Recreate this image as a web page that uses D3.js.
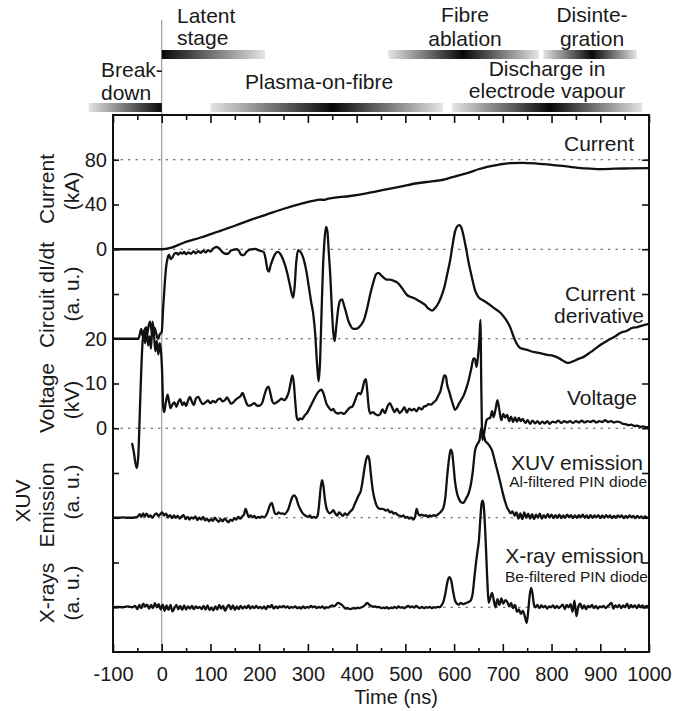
<!DOCTYPE html>
<html>
<head>
<meta charset="utf-8">
<title>Fibre discharge: current, dI/dt, voltage, XUV and X-ray traces</title>
<script src="https://d3js.org/d3.v7.min.js"></script>
<style>
    body {
        margin: 0;
        background: #fff;
    }
    svg text {
        font-family: "Liberation Sans", Arial, Helvetica, sans-serif;
        fill: #1a1a1a;
    }
</style>
</head>
<body>
<div id="chart"></div>
<script>
// ---- data (time in ns) ----
const timeTicks = [-100, 0, 100, 200, 300, 400, 500, 600, 700, 800, 900, 1000];
const timeMinorTicks = [-50, 50, 150, 250, 350, 450, 550, 650, 750, 850, 950];
const currentTicks = [0, 40, 80];
const voltageTicks = [0, 10, 20];

const stageLabels = [['Break-', 'down'], ['Latent', 'stage'], ['Plasma-on-fibre'],
    ['Fibre', 'ablation'], ['Disinte-', 'gration'], ['Discharge in', 'electrode vapour']];
const stageStart = [-150, 0, 100, 465, 783, 596];
const stagePeak = [0, 0, 350, 618, 883, 797];
const stageEnd = [0, 212, 577, 774, 975, 986];

const seriesNames = ['Current', 'Current derivative', 'Voltage', 'XUV emission', 'X-ray emission'];
const filterNotes = ['Al-filtered PIN diode', 'Be-filtered PIN diode'];

// current, kA
const currentData = [[-100,0],[0,0],[20,1.5],[44,5.6],[80,10.5],[113,15.4],[150,21],[181,26],[215,31],
    [249,36],[285,40.5],[318,44],[325,44.4],[332,44.1],[340,45],[387,47.6],[420,50],[455,53],[490,56],
    [524,59],[551,60.5],[570,61.5],[585,63],[610,66],[633,69],[650,71.5],[668,73.6],[690,75.5],[715,77],
    [740,77.2],[770,76.6],[800,75.5],[838,73.7],[870,72.3],[900,71.7],[930,72],[960,72.3],[1000,72.6]];

// circuit dI/dt, a.u. (0 = upper dotted line, -2 = lower dotted line)
const didtData = [[-100,-2],[-60,-2],[-48,-2],[-45,-1.9],[-42,-1.78],[-39,-1.95],[-36,-1.82],[-33,-1.75],
    [-30,-1.9],[-27,-1.72],[-24,-1.62],[-21,-1.8],[-18,-1.95],[-15,-1.75],[-12,-1.85],[-8,-2],[-4,-1.9],
    [0,-1.85],[3,-1.3],[6,-0.8],[9,-0.4],[12,-0.2],[15,-0.12],[18,-0.22],[22,-0.18],[26,-0.1],[30,-0.08],
    [34,-0.12],[38,-0.07],[42,-0.1],[46,-0.06],[50,-0.11],[55,-0.07],[60,-0.1],[65,-0.05],[70,-0.09],
    [75,-0.04],[80,-0.08],[85,-0.03],[90,-0.07],[95,-0.02],[100,-0.05],[106,0.02],[113,0.05],[118,0.02],
    [124,-0.06],[130,-0.1],[136,-0.1],[142,-0.03],[148,-0.01],[154,0],[158,-0.03],[163,-0.12],[168,-0.13],
    [174,-0.06],[180,-0.01],[186,0],[192,0.01],[198,-0.02],[204,-0.04],[209,-0.06],[213,-0.2],[217,-0.45],
    [220,-0.5],[223,-0.38],[227,-0.25],[232,-0.12],[238,-0.06],[243,-0.1],[248,-0.2],[253,-0.35],[258,-0.55],
    [263,-0.8],[267,-1],[270,-1.08],[273,-0.8],[276,-0.3],[280,-0.02],[284,-0.05],[288,-0.12],[292,-0.25],
    [297,-0.5],[302,-0.85],[307,-1.2],[311,-1.45],[315,-1.9],[319,-2.6],[322,-2.95],[325,-2.5],[328,-1.4],
    [331,-0.4],[334,0.2],[337,0.5],[340,0.4],[343,-0.1],[346,-0.6],[349,-1.3],[352,-1.85],[355,-2.05],
    [358,-1.75],[362,-1.35],[366,-1.15],[370,-1.12],[374,-1.25],[378,-1.4],[383,-1.6],[388,-1.72],[393,-1.78],
    [398,-1.78],[404,-1.75],[410,-1.68],[416,-1.55],[422,-1.3],[428,-1],[434,-0.75],[440,-0.56],[445,-0.53],
    [450,-0.58],[456,-0.64],[462,-0.68],[468,-0.68],[475,-0.7],[483,-0.74],[490,-0.82],[497,-0.93],[503,-1.02],
    [510,-1.06],[517,-1.09],[524,-1.13],[532,-1.18],[540,-1.24],[548,-1.33],[555,-1.37],[562,-1.3],[568,-1.2],
    [574,-1.05],[580,-0.85],[586,-0.55],[592,-0.24],[597,0.1],[602,0.4],[607,0.52],[611,0.54],[615,0.48],
    [619,0.32],[624,0.05],[629,-0.25],[633,-0.46],[638,-0.7],[643,-0.92],[650,-1.07],[659,-1.14],[668,-1.2],
    [680,-1.3],[695,-1.42],[705,-1.55],[715,-1.74],[722,-1.95],[728,-2.1],[735,-2.2],[750,-2.25],[765,-2.3],
    [780,-2.33],[791,-2.36],[800,-2.37],[811,-2.41],[822,-2.48],[834,-2.54],[845,-2.5],[855,-2.45],[865,-2.41],
    [880,-2.3],[890,-2.22],[900,-2.14],[915,-2.04],[930,-1.95],[941,-1.87],[955,-1.82],[965,-1.76],[976,-1.74],
    [988,-1.7],[1000,-1.67]];

// voltage, kV
const voltageData = [[-61,-3.3],[-57,-5.5],[-54,-7.8],[-51,-8.9],[-48,-6],[-45,3.4],[-42,13],[-39,19.7],
    [-36,21.5],[-34,19],[-31,22.6],[-28,18.5],[-25,20.5],[-22,17.8],[-19,23.8],[-16,21],[-13,17.2],[-10,19.5],
    [-7,16.5],[-4,19],[-1,16.5],[1,12],[3,4.7],[5,3.6],[8,5.5],[12,7.5],[15,6],[18,4.5],[22,5.3],[26,5.8],
    [30,4.8],[34,5.9],[38,6.5],[42,5.2],[46,5.8],[50,5],[54,6.2],[58,7],[62,5.9],[66,5.2],[70,6.6],[75,7],
    [80,6],[85,5.4],[90,5.8],[95,6.2],[100,5.6],[105,6.1],[110,5.8],[115,6.4],[120,6.6],[125,6],[130,6.3],
    [134,6.9],[138,6.2],[142,5.5],[147,5.8],[152,6.4],[157,6.8],[162,7.2],[166,7.9],[170,6.8],[174,5.6],
    [178,5],[184,5.2],[190,5.6],[196,5],[202,5.1],[207,5.9],[211,7.5],[215,8.8],[219,9.3],[223,7.8],[227,6],
    [231,5.5],[236,5.8],[241,6.2],[246,6.6],[251,6.3],[256,6.8],[261,8.2],[265,10.4],[268,11.8],[271,10.2],
    [274,6],[277,2.5],[280,1.8],[284,2.2],[288,2],[293,2.8],[298,3.4],[304,4.6],[310,5.9],[316,7.2],[322,8.2],
    [328,8.6],[333,7.4],[338,5.5],[343,4.6],[348,4],[352,4.3],[356,3.6],[362,3.3],[368,3.5],[374,3.2],[380,3.9],
    [386,4.6],[391,4.8],[396,6],[400,7.2],[404,7.9],[408,7.6],[412,8.8],[416,10.6],[419,11],[422,8],[425,4.5],
    [428,3.3],[433,3.6],[438,3.2],[443,2.9],[448,3.1],[453,4.2],[458,3.4],[463,4.8],[468,5.6],[473,4.6],
    [478,3.6],[483,4.4],[488,3.4],[493,3.9],[498,4.7],[503,3.5],[508,4.4],[513,4],[518,4.3],[523,3.8],[528,4.6],
    [533,4.2],[538,4.8],[543,5],[548,5.4],[553,5.3],[558,5.8],[563,6.3],[568,7.4],[572,8.3],[576,10.2],
    [580,11.8],[583,11.6],[586,9.6],[590,8.2],[594,6.6],[598,5.2],[602,4.1],[606,4.6],[610,5.5],[615,6.4],
    [620,7.4],[625,8.9],[630,10.8],[635,13.2],[640,15.6],[643,15.4],[646,13.7],[649,16],[652,20],[654,24.2],
    [656,8],[658,-2.6],[661,-1.5],[664,0.5],[667,1.9],[671,2.2],[674,2.3],[678,3.8],[681,2.5],[685,4.2],
    [689,6.3],[693,4],[697,1.8],[701,3.2],[705,2.4],[709,3],[713,1.6],[717,2.6],[721,1.4],[725,2.4],[729,1.5],
    [733,2.3],[737,1.6],[741,2.1],[746,1.2],[751,1.8],[756,1],[761,1.7],[766,1.1],[771,1.6],[776,1],[781,1.5],
    [786,1.1],[791,1.6],[796,1],[802,1.5],[808,1.3],[814,1.7],[820,1.2],[826,1.6],[832,1.3],[838,1.6],
    [844,1.2],[850,1.6],[856,1.3],[862,1.7],[868,1.3],[874,1.6],[880,1.4],[886,1.7],[892,1.3],[898,1.6],
    [904,1.4],[910,1.8],[916,1.4],[922,1.6],[928,1.3],[934,1.5],[940,1.4],[946,1],[952,0.9],[958,0.7],
    [964,0.8],[970,0.5],[976,0.6],[982,0.3],[988,0.4],[994,0.2],[1000,0.3]];

// XUV emission, a.u.
const xuvData = [[-100,0],[-90,0],[-80,0.01],[-70,0],[-60,0],[-50,0.02],[-45,0.08],[-42,0.02],[-38,0.1],
    [-35,0.03],[-31,0.09],[-27,0.02],[-23,0.05],[-19,0],[-15,0.06],[-11,0.1],[-7,0.04],[-3,0.08],[1,0.12],
    [5,0.05],[9,0.09],[13,0.01],[17,0.06],[21,-0.01],[25,0.05],[29,0],[33,0.04],[37,-0.02],[41,0.03],
    [45,0.06],[49,-0.03],[53,0.02],[57,-0.04],[61,0.01],[65,-0.02],[69,0.03],[73,-0.05],[77,0],[81,-0.04],
    [85,0.02],[89,-0.06],[93,-0.02],[97,-0.08],[101,-0.03],[105,-0.07],[109,0],[113,-0.05],[117,-0.09],
    [121,-0.03],[125,-0.08],[129,-0.02],[133,-0.06],[137,-0.1],[141,-0.04],[145,-0.07],[149,-0.01],[153,-0.04],
    [157,0.02],[161,-0.02],[165,0.03],[169,0.08],[172,0.2],[175,0.12],[178,0.02],[182,0.05],[186,0.01],
    [190,0.04],[194,-0.01],[198,0.02],[202,0],[206,0.03],[210,0.01],[214,0.05],[218,0.15],[222,0.28],
    [226,0.33],[229,0.22],[232,0.1],[236,0.08],[240,0.12],[244,0.09],[248,0.1],[252,0.08],[256,0.12],[260,0.2],
    [264,0.34],[268,0.46],[272,0.5],[276,0.44],[280,0.3],[284,0.2],[288,0.12],[292,0.07],[296,0.04],[300,0.02],
    [304,0.05],[308,0],[312,0.02],[316,0],[320,0.05],[323,0.3],[326,0.65],[329,0.84],[332,0.7],[335,0.4],
    [338,0.22],[341,0.14],[344,0.1],[348,0.12],[352,0.17],[356,0.1],[360,0.05],[364,0.12],[368,0.08],
    [372,0.04],[376,0.1],[380,0.06],[384,0.1],[388,0.15],[392,0.2],[396,0.3],[400,0.4],[404,0.5],[408,0.58],
    [412,0.8],[416,1.1],[420,1.32],[423,1.38],[426,1.3],[429,1],[432,0.7],[436,0.45],[440,0.3],[444,0.22],
    [448,0.2],[452,0.2],[456,0.19],[460,0.16],[464,0.18],[468,0.12],[472,0.14],[476,0.09],[480,0.11],
    [484,0.06],[488,0.05],[492,0.03],[496,0.05],[500,0],[504,0.02],[508,-0.02],[512,0.01],[516,-0.04],
    [520,0.02],[523,0.2],[526,0.1],[530,0.05],[534,0.07],[538,0.04],[542,0.06],[546,0.02],[550,0.05],
    [554,0.03],[558,0.06],[562,0.04],[566,0.07],[570,0.1],[574,0.15],[578,0.22],[582,0.45],[586,0.95],
    [590,1.35],[593,1.52],[596,1.45],[599,1.15],[602,0.8],[606,0.55],[610,0.42],[614,0.35],[619,0.33],
    [624,0.42],[630,0.55],[634,0.72],[638,1],[643,1.5],[648,1.65],[652,1.73],[656,2],[660,1.9],[664,1.72],
    [668,1.67],[673,1.6],[678,1.5],[684,1.25],[690,1],[695,0.78],[700,0.55],[705,0.35],[709,0.22],[713,0.15],
    [716,0.1],[720,0.14],[724,0.05],[728,0.12],[732,-0.02],[736,0.1],[740,-0.03],[744,0.12],[748,0],
    [752,0.09],[756,-0.02],[760,0.08],[764,-0.03],[768,0.07],[772,0],[776,0.09],[780,-0.02],[784,0.06],
    [788,0],[792,0.08],[796,0.01],[800,0.07],[804,-0.01],[808,0.06],[812,0],[816,0.07],[820,-0.01],[824,0.05],
    [828,0],[832,0.07],[836,0.01],[840,0.06],[844,-0.01],[848,0.05],[852,0],[856,0.06],[860,0.01],[864,0.07],
    [868,0],[872,0.05],[876,-0.01],[880,0.06],[884,0],[888,0.05],[892,0.01],[896,0.06],[900,-0.01],[904,0.05],
    [908,0],[912,0.06],[916,0.01],[920,0.05],[924,-0.01],[928,0.04],[932,0],[936,0.05],[940,0.01],[944,0.05],
    [948,-0.01],[952,0.04],[956,0],[960,0.05],[964,0.01],[968,0.04],[972,-0.01],[976,0.04],[980,0],[984,0.03],
    [988,-0.01],[992,0.03],[996,0],[1000,0.02]];

// X-ray emission, a.u.
const xrayData = [[-100,0],[-90,0.01],[-80,0],[-70,0.02],[-60,0],[-55,0.03],[-50,-0.04],[-46,0.05],
    [-42,-0.02],[-38,0.08],[-34,0.02],[-30,0.06],[-26,-0.03],[-22,0.05],[-18,-0.02],[-14,0.09],[-10,0],
    [-6,0.07],[-2,-0.05],[2,0.06],[6,-0.08],[10,0.04],[14,-0.06],[18,0.05],[22,-0.09],[26,-0.02],[30,0.05],
    [34,-0.04],[38,0.03],[42,-0.06],[46,0.04],[50,-0.05],[54,0.02],[58,-0.03],[62,0.03],[66,-0.04],[70,0.02],
    [74,-0.02],[78,0.01],[82,-0.04],[86,0.03],[90,-0.05],[94,0.04],[98,-0.06],[102,-0.01],[106,-0.07],
    [110,0.02],[114,-0.05],[118,0.05],[122,-0.03],[126,0.03],[130,-0.08],[134,0],[138,0.05],[142,-0.04],
    [146,0.04],[150,-0.06],[154,0.02],[158,-0.04],[162,0.03],[166,-0.03],[170,0.02],[174,-0.02],[178,0.04],
    [182,-0.03],[186,0.02],[190,-0.02],[194,0.03],[198,-0.02],[202,0.01],[206,-0.03],[210,0.02],[214,-0.04],
    [218,0.03],[222,0],[226,0.05],[230,-0.03],[234,0.02],[238,-0.02],[242,0.02],[246,0],[250,0.03],[254,-0.01],
    [258,0.02],[262,-0.02],[266,0.01],[270,-0.01],[274,0.02],[278,-0.02],[282,0],[286,-0.03],[290,0.02],
    [294,-0.02],[298,0.01],[302,-0.01],[306,0.03],[310,0],[314,0.02],[318,-0.02],[322,0.01],[326,-0.01],
    [330,0.02],[334,-0.03],[338,0],[342,-0.01],[346,0.02],[350,0.04],[354,0.02],[358,0.06],[362,0.1],
    [366,0.08],[370,0.05],[374,0],[378,-0.03],[382,-0.02],[386,-0.04],[390,-0.03],[394,-0.02],[398,-0.03],
    [402,-0.01],[406,-0.02],[410,0],[414,0.02],[418,0.06],[422,0.1],[426,0.05],[430,0.03],[434,0.01],
    [438,0.02],[442,0],[446,0.01],[450,-0.02],[454,-0.01],[458,-0.02],[462,0],[466,-0.03],[470,-0.01],
    [474,-0.02],[478,0.01],[482,-0.02],[486,0.02],[490,-0.01],[494,0],[498,-0.02],[502,0.01],[506,0.03],
    [510,0],[514,0.02],[518,-0.01],[522,0.03],[526,0],[530,-0.02],[534,0.01],[538,-0.02],[542,0],[546,-0.01],
    [550,0.01],[554,-0.02],[558,0],[562,-0.01],[566,0.01],[570,0],[574,0.04],[578,0.12],[582,0.3],[586,0.55],
    [590,0.67],[594,0.6],[598,0.35],[602,0.15],[606,0.08],[610,0.06],[614,0.1],[618,0.07],[622,0.08],
    [626,0.1],[630,0.12],[634,0.15],[638,0.3],[642,0.7],[645,1],[648,1.25],[651,1.5],[654,2],[657,2.35],
    [659,2.38],[661,2.25],[663,1.9],[665,1.43],[667,0.9],[669,0.4],[671,0.1],[674,0.2],[678,0.32],[682,0.12],
    [685,0],[689,0.18],[693,0.05],[697,0.2],[701,0.08],[705,0.16],[709,0.12],[713,0.02],[717,0.1],[721,-0.02],
    [725,0.05],[729,-0.1],[733,-0.05],[737,-0.15],[741,-0.08],[745,-0.2],[749,-0.35],[752,-0.1],[755,0.25],
    [758,0.43],[761,0.3],[764,0.05],[767,0],[771,0.05],[775,-0.02],[779,0.04],[783,0],[787,0.03],[791,-0.03],
    [795,0.02],[799,0],[803,0.04],[807,-0.02],[811,0.03],[815,-0.02],[819,0.02],[823,0.06],[827,-0.04],
    [831,0.05],[835,0],[839,0.07],[843,-0.1],[847,0.15],[851,-0.2],[855,0.02],[859,0.08],[863,-0.03],
    [867,0.04],[871,-0.04],[875,0.03],[879,0],[883,0.05],[887,-0.02],[891,0.03],[895,-0.03],[899,0.02],
    [903,0],[907,0.03],[911,-0.02],[915,0.02],[919,0.06],[923,0.1],[927,-0.03],[931,0.04],[935,0],[939,0.05],
    [943,-0.02],[947,0.04],[951,0],[955,0.08],[959,-0.02],[963,0.05],[967,0],[971,0.04],[975,-0.02],[979,0.05],
    [983,0],[987,0.04],[991,-0.01],[995,0.03],[1000,0]];

// ---- chart ----
const width = 688;
const height = 711;
const margin = { top: 115, right: 39, bottom: 59, left: 113 };

const svg = d3.select('#chart').append('svg')
    .attr('width', width)
    .attr('height', height);

const x = d3.scaleLinear()
    .domain([-100, 1000])
    .range([margin.left, width - margin.right]);

// the plot is stacked in 12 equal levels, each trace gets its own band
const level = d3.scaleLinear()
    .domain([0, 12])
    .range([height - margin.bottom, margin.top]);

const yCurrent = d3.scaleLinear().domain([0, 80]).range([level(9), level(11)]);
const yDidt = d3.scaleLinear().domain([-2, 0]).range([level(7), level(9)]);
const yVoltage = d3.scaleLinear().domain([0, 20]).range([level(5), level(7)]);
const yXuv = d3.scaleLinear().domain([0, 1]).range([level(3), level(4)]);
const yXray = d3.scaleLinear().domain([0, 1]).range([level(1), level(2)]);

const x0 = margin.left, x1 = width - margin.right;
const y0 = height - margin.bottom, y1 = margin.top;

// dotted reference lines
const refLines = [yCurrent(80), yCurrent(0), yVoltage(20), yVoltage(0), yXuv(0), yXray(0)];
svg.append('g')
    .selectAll('line')
    .data(refLines)
    .join('line')
    .attr('x1', x0)
    .attr('x2', x1)
    .attr('y1', d => d)
    .attr('y2', d => d)
    .attr('stroke', '#555')
    .attr('stroke-width', 1.1)
    .attr('stroke-dasharray', '2.5,5');

// t = 0 marker
svg.append('line')
    .attr('x1', x(0))
    .attr('x2', x(0))
    .attr('y1', 20)
    .attr('y2', y0)
    .attr('stroke', '#888')
    .attr('stroke-width', 1);

// stage bars
const defs = svg.append('defs');
const stageRow = [1, 0, 1, 0, 0, 1];
const rowY = [50, 103];
stageLabels.forEach((lab, i) => {
    const g = defs.append('linearGradient')
        .attr('id', 'stage' + i)
        .attr('gradientUnits', 'userSpaceOnUse')
        .attr('x1', x(stageStart[i]))
        .attr('x2', x(stageEnd[i]))
        .attr('y1', 0)
        .attr('y2', 0);
    const p = (stagePeak[i] - stageStart[i]) / (stageEnd[i] - stageStart[i]);
    if (p > 0) g.append('stop').attr('offset', 0).attr('stop-color', '#e4e4e4');
    g.append('stop').attr('offset', p).attr('stop-color', '#080808');
    if (p < 1) g.append('stop').attr('offset', 1).attr('stop-color', '#e4e4e4');

    svg.append('rect')
        .attr('x', x(stageStart[i]))
        .attr('width', x(stageEnd[i]) - x(stageStart[i]))
        .attr('y', rowY[stageRow[i]])
        .attr('height', 9)
        .attr('fill', `url(#stage${i})`);
});

const stagePos = [
    { x: 101, anchor: 'start', y: [77, 100] },
    { x: 177, anchor: 'start', y: [23, 45] },
    { x: 245, anchor: 'start', y: [89] },
    { x: 465, anchor: 'middle', y: [22, 46] },
    { x: 592, anchor: 'middle', y: [22, 46] },
    { x: 547, anchor: 'middle', y: [76, 98] }
];
stageLabels.forEach((lines, i) => {
    lines.forEach((t, j) => {
        svg.append('text')
            .attr('x', stagePos[i].x)
            .attr('y', stagePos[i].y[j])
            .attr('text-anchor', stagePos[i].anchor)
            .attr('font-size', 21)
            .text(t);
    });
});

// traces
const traces = [
    { data: currentData, y: yCurrent },
    { data: didtData, y: yDidt },
    { data: voltageData, y: yVoltage },
    { data: xuvData, y: yXuv },
    { data: xrayData, y: yXray }
];
traces.forEach(tr => {
    const line = d3.line()
        .x(d => x(d[0]))
        .y(d => tr.y(d[1]))
        .curve(d3.curveMonotoneX);
    svg.append('path')
        .datum(tr.data)
        .attr('fill', 'none')
        .attr('stroke', '#111')
        .attr('stroke-width', 2.3)
        .attr('stroke-linejoin', 'round')
        .attr('d', line);
});

// axes (ticks point inward)
svg.append('g')
    .attr('transform', `translate(0,${y0})`)
    .call(d3.axisBottom(x).tickValues(timeTicks).tickSizeInner(-8).tickSizeOuter(0).tickPadding(15)
        .tickFormat(d => String(d)));
svg.append('g')
    .attr('transform', `translate(0,${y0})`)
    .call(d3.axisBottom(x).tickValues(timeMinorTicks).tickSizeInner(-4).tickSizeOuter(0).tickFormat(''));
svg.append('g')
    .attr('transform', `translate(0,${y1})`)
    .call(d3.axisTop(x).tickValues(timeTicks).tickSizeInner(-8).tickSizeOuter(0).tickFormat(''));
svg.append('g')
    .attr('transform', `translate(0,${y1})`)
    .call(d3.axisTop(x).tickValues(timeMinorTicks).tickSizeInner(-5).tickSizeOuter(0).tickFormat(''));

svg.append('g')
    .attr('transform', `translate(${x0},0)`)
    .call(d3.axisLeft(yCurrent).tickValues(currentTicks).tickSizeInner(-6).tickSizeOuter(0).tickPadding(6)
        .tickFormat(d => String(d)));
svg.append('g')
    .attr('transform', `translate(${x0},0)`)
    .call(d3.axisLeft(yVoltage).tickValues(voltageTicks).tickSizeInner(-6).tickSizeOuter(0).tickPadding(6)
        .tickFormat(d => String(d)));
svg.append('g')
    .attr('transform', `translate(${x0},0)`)
    .call(d3.axisLeft(level).tickValues([1, 2, 3, 4, 8]).tickSizeInner(-6).tickSizeOuter(0).tickFormat(''));
svg.append('g')
    .attr('transform', `translate(${x1},0)`)
    .call(d3.axisRight(level).tickValues([1, 2, 3, 4, 5, 6, 7, 8, 9, 10, 11]).tickSizeInner(-7).tickSizeOuter(0).tickFormat(''));

svg.selectAll('.domain').remove();
svg.selectAll('.tick line').attr('stroke', '#111').attr('stroke-width', 1.6);
svg.selectAll('.tick text').attr('font-size', 20).attr('fill', '#1a1a1a')
    .style('font-family', '"Liberation Sans", Arial, sans-serif');

// frame
svg.append('rect')
    .attr('x', x0)
    .attr('y', y1)
    .attr('width', x1 - x0)
    .attr('height', y0 - y1)
    .attr('fill', 'none')
    .attr('stroke', '#111')
    .attr('stroke-width', 2);

// x title
svg.append('text')
    .attr('x', 396)
    .attr('y', 704)
    .attr('text-anchor', 'middle')
    .attr('font-size', 20)
    .text('Time (ns)');

// rotated y labels
const yTitles = [
    { t: 'Current', cx: 47, cy: 189 }, { t: '(kA)', cx: 72, cy: 191 },
    { t: 'Circuit dI/dt', cx: 47, cy: 295 }, { t: '(a. u.)', cx: 72, cy: 294 },
    { t: 'Voltage', cx: 47, cy: 398 }, { t: '(kV)', cx: 72, cy: 400 },
    { t: 'XUV', cx: 23, cy: 501 }, { t: 'Emission', cx: 47, cy: 505 }, { t: '(a. u.)', cx: 72, cy: 492 },
    { t: 'X-rays', cx: 47, cy: 593 }, { t: '(a. u.)', cx: 72, cy: 593 }
];
svg.append('g')
    .selectAll('text')
    .data(yTitles)
    .join('text')
    .attr('transform', d => `translate(${d.cx},${d.cy}) rotate(-90)`)
    .attr('text-anchor', 'middle')
    .attr('dy', '0.35em')
    .attr('font-size', 21)
    .text(d => d.t);

// series labels inside the plot
const seriesPos = [
    { lines: [seriesNames[0]], x: [634], y: [151] },
    { lines: ['Current', 'derivative'], x: [635, 644], y: [301, 323] },
    { lines: [seriesNames[2]], x: [637], y: [405] },
    { lines: [seriesNames[3]], x: [643], y: [470] },
    { lines: [seriesNames[4]], x: [644], y: [563] }
];
seriesPos.forEach(s => {
    s.lines.forEach((t, j) => {
        svg.append('text')
            .attr('x', s.x[j])
            .attr('y', s.y[j])
            .attr('text-anchor', 'end')
            .attr('font-size', 21)
            .text(t);
    });
});
svg.append('text').attr('x', 647).attr('y', 487).attr('text-anchor', 'end')
    .attr('font-size', 15.5).text(filterNotes[0]);
svg.append('text').attr('x', 648).attr('y', 582).attr('text-anchor', 'end')
    .attr('font-size', 15.5).text(filterNotes[1]);
</script>
</body>
</html>
